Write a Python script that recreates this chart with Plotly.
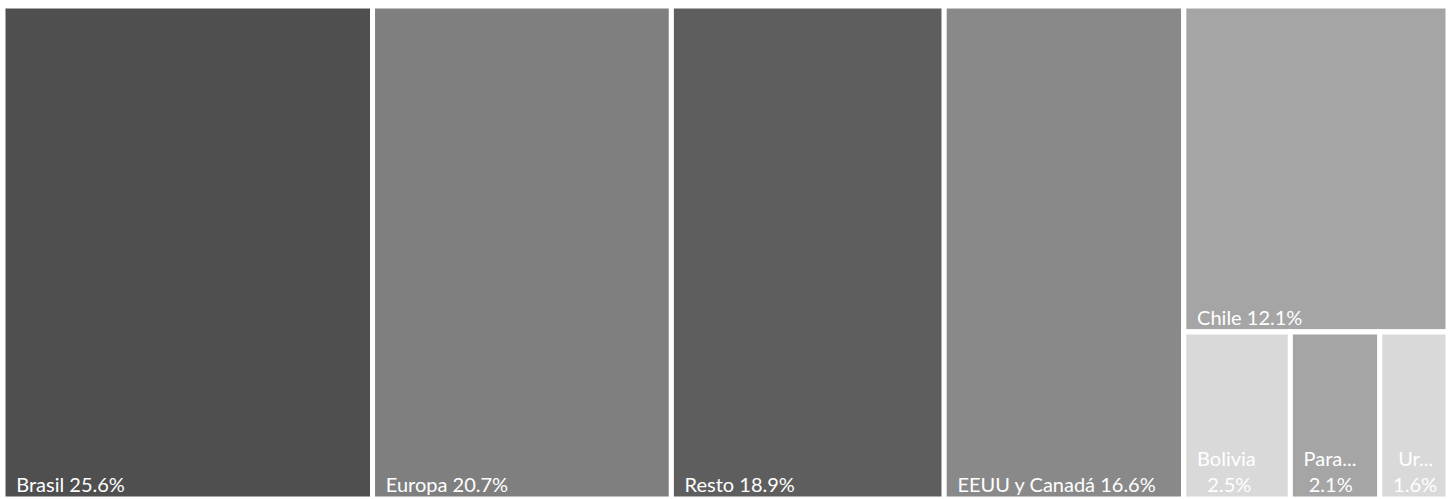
import plotly.graph_objects as go

# datos del treemap (participación %)
ids = ["Brasil", "Europa", "Resto", "EEUU y Canadá", "otros",
       "Chile", "menores", "Bolivia", "Paraguay", "Uruguay"]
parents = ["", "", "", "", "",
           "otros", "otros", "menores", "menores", "menores"]
values = [25.6, 20.7, 18.9, 16.6, 0, 12.1, 0, 2.5, 2.1, 1.6]
labels = ["Brasil 25.6%", "Europa 20.7%", "Resto 18.9%", "EEUU y Canadá 16.6%", "",
          "Chile 12.1%", "", "Bolivia<br>\u00a0\u00a02.5%", "Para...<br>\u00a02.1%",
          "\u00a0Ur...<br>1.6%"]
colors = ["#4f4f4f", "#7f7f7f", "#5e5e5e", "#898989", "#ffffff",
          "#a5a5a5", "#ffffff", "#d9d9d9", "#a5a5a5", "#d9d9d9"]

pad = "\u00a0\u00a0"
text = [pad + t.replace("<br>", "<br>" + pad) if t else t for t in labels]

fig = go.Figure(go.Treemap(
    ids=ids, labels=ids, parents=parents, values=values, text=text,
    branchvalues="remainder", sort=False,
    texttemplate="%{text}", textposition="bottom left",
    textfont=dict(family="Lato", size=20, color="white"),
    marker=dict(colors=colors, line=dict(color="white", width=5),
                pad=dict(t=0, l=0, r=0, b=0)),
    tiling=dict(packing="slice-dice", pad=0),
    pathbar=dict(visible=False),
    hoverinfo="none",
))
fig.update_layout(
    width=1452, height=499,
    margin=dict(l=3, r=4, t=6, b=0),
    paper_bgcolor="white",
)
fig.write_html("out.html", config={"displayModeBar": False},
               post_script="document.body.style.margin='0';")
